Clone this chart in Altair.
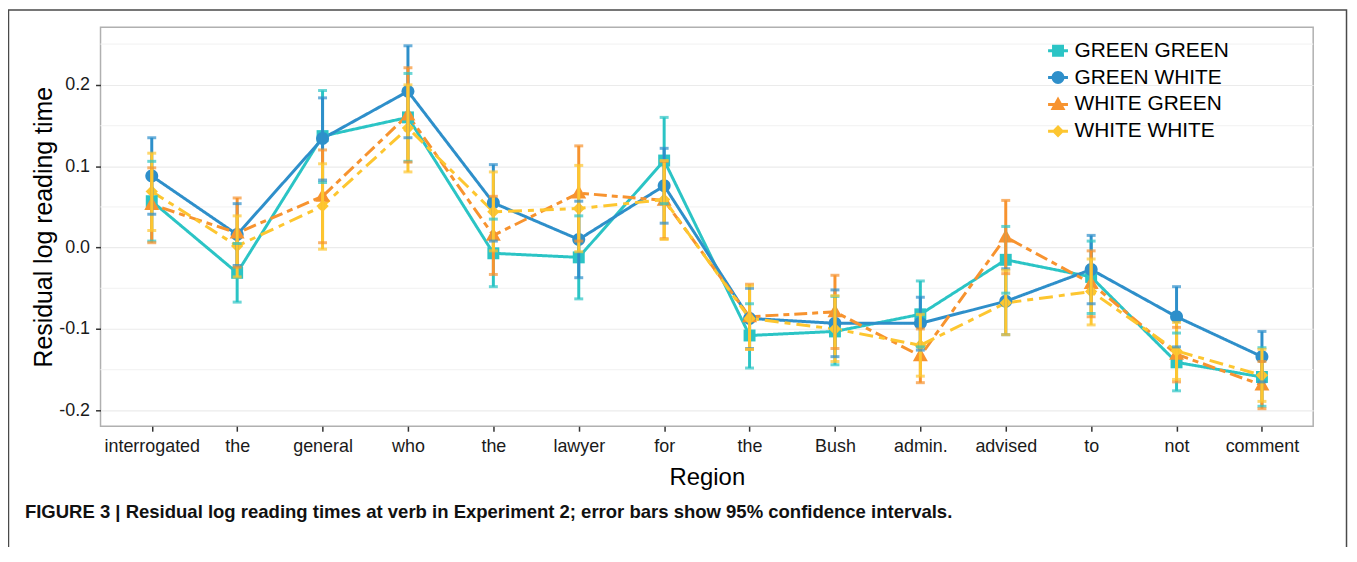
import altair as alt
import pandas as pd

regions = ["interrogated", "the", "general", "who", "the", "lawyer", "for",
           "the", "Bush", "admin.", "advised", "to", "not", "comment"]
series = ["GREEN GREEN", "GREEN WHITE", "WHITE GREEN", "WHITE WHITE"]

gg_mean = [0.057, -0.031, 0.137, 0.160, -0.007, -0.012, 0.107, -0.108, -0.103, -0.082, -0.015, -0.036, -0.141, -0.159]
gg_lo = [0.008, -0.067, 0.080, 0.106, -0.048, -0.063, 0.054, -0.148, -0.144, -0.122, -0.056, -0.081, -0.176, -0.195]
gg_hi = [0.106, 0.005, 0.193, 0.214, 0.035, 0.039, 0.160, -0.069, -0.060, -0.041, 0.026, 0.008, -0.105, -0.123]

gw_mean = [0.088, 0.016, 0.134, 0.192, 0.055, 0.010, 0.076, -0.087, -0.093, -0.093, -0.066, -0.027, -0.085, -0.134]
gw_lo = [0.041, -0.022, 0.083, 0.135, 0.008, -0.037, 0.030, -0.124, -0.134, -0.126, -0.107, -0.069, -0.122, -0.165]
gw_hi = [0.135, 0.054, 0.184, 0.248, 0.102, 0.057, 0.122, -0.050, -0.052, -0.061, -0.026, 0.015, -0.048, -0.103]

wg_mean = [0.053, 0.018, 0.063, 0.163, 0.015, 0.067, 0.058, -0.085, -0.079, -0.133, 0.013, -0.044, -0.131, -0.169]
wg_lo = [0.006, -0.024, 0.006, 0.105, -0.033, 0.008, 0.011, -0.125, -0.124, -0.166, -0.032, -0.085, -0.165, -0.198]
wg_hi = [0.098, 0.061, 0.120, 0.221, 0.063, 0.125, 0.106, -0.045, -0.034, -0.100, 0.058, -0.004, -0.098, -0.140]

ww_mean = [0.069, 0.002, 0.051, 0.147, 0.044, 0.048, 0.059, -0.087, -0.100, -0.120, -0.068, -0.054, -0.127, -0.157]
ww_lo = [0.021, -0.036, -0.002, 0.093, -0.004, -0.005, 0.010, -0.125, -0.140, -0.158, -0.107, -0.095, -0.162, -0.189]
ww_hi = [0.116, 0.039, 0.103, 0.200, 0.093, 0.101, 0.107, -0.047, -0.059, -0.082, -0.028, -0.014, -0.092, -0.125]

y_ticks = [-0.2, -0.1, 0.0, 0.1, 0.2]
minor_grid = [-0.15, -0.05, 0.05, 0.15, 0.25]

caption = ("FIGURE 3 | Residual log reading times at verb in Experiment 2; "
           "error bars show 95% confidence intervals.")

colors = ["#2BC4C5", "#2E8FCA", "#F7932F", "#FDC630"]
dashes = [[1, 0], [1, 0], [6, 5, 13, 5], [14, 6, 6, 6]]

# marker shapes (unit path coords)
sq = "M-0.6,-0.6H0.6V0.6H-0.6Z"
ci = "M-0.65,0A0.65,0.65,0,1,1,0.65,0A0.65,0.65,0,1,1,-0.65,0Z"
tr = "M0,-0.8L0.75,0.55H-0.75Z"
di = "M0,-0.62L0.62,0L0,0.62L-0.62,0Z"
ln = "M-1,-0.15H1V0.15H-1Z"
point_shapes = [sq, ci, tr, di]
legend_shapes = [ln + sq, ln + ci, ln + tr, ln + di]

means = [gg_mean, gw_mean, wg_mean, ww_mean]
los = [gg_lo, gw_lo, wg_lo, ww_lo]
his = [gg_hi, gw_hi, wg_hi, ww_hi]

rows = []
for s, m, lo, hi in zip(series, means, los, his):
    for i in range(len(regions)):
        rows.append({"series": s, "pos": i, "mean": m[i], "lo": lo[i], "hi": hi[i]})
df = pd.DataFrame(rows)

FONT = "Liberation Sans"
label_array = "[" + ",".join("'" + r + "'" for r in regions) + "]"

x_enc = alt.X(
    "pos:O",
    sort=list(range(len(regions))),
    scale=alt.Scale(type="point", padding=0.6),
    axis=alt.Axis(title="Region", labelExpr=label_array + "[datum.value]",
                  labelAngle=0, labelOverlap=False, titlePadding=11),
)
y_scale = alt.Scale(domain=[-0.2195, 0.2707], nice=False, zero=False)
y_axis = alt.Axis(
    title="Residual log reading time", values=y_ticks,
    labelExpr="datum.value < -0.001 ? '-' + format(-datum.value, '.1f') : format(abs(datum.value), '.1f')",
    titlePadding=2, titleFontSize=25,
)

color_enc = alt.Color("series:N", scale=alt.Scale(domain=series, range=colors), legend=None)
dash_enc = alt.StrokeDash("series:N", scale=alt.Scale(domain=series, range=dashes), legend=None)

base = alt.Chart(df)

minor = alt.Chart(pd.DataFrame({"v": minor_grid})).mark_rule(
    color="#f4f4f4", strokeWidth=1.2
).encode(y=alt.Y("v:Q", scale=y_scale, axis=y_axis))

lines = base.mark_line(strokeWidth=3).encode(
    x=x_enc, y=alt.Y("mean:Q", scale=y_scale, axis=y_axis),
    color=color_enc, strokeDash=dash_enc,
)

points = base.mark_point(filled=True, opacity=1, size=400).encode(
    x=x_enc, y=alt.Y("mean:Q", scale=y_scale, axis=y_axis),
    color=color_enc,
    shape=alt.Shape("series:N", scale=alt.Scale(domain=series, range=point_shapes), legend=None),
)

err = base.mark_rule(strokeWidth=3).encode(
    x=x_enc, y=alt.Y("lo:Q", scale=y_scale, axis=y_axis), y2="hi:Q", color=color_enc,
)
cap_lo = base.mark_tick(thickness=3, size=9).encode(
    x=x_enc, y=alt.Y("lo:Q", scale=y_scale, axis=y_axis), color=color_enc,
)
cap_hi = base.mark_tick(thickness=3, size=9).encode(
    x=x_enc, y=alt.Y("hi:Q", scale=y_scale, axis=y_axis), color=color_enc,
)

leg = alt.Legend(title=None, orient="none", legendX=952, legendY=13,
                 symbolOpacity=1, symbolSize=400, symbolStrokeWidth=0,
                 labelFont=FONT, labelFontSize=21, labelColor="#000000",
                 labelOffset=6, rowPadding=5, padding=0)
legend_layer = base.mark_point(filled=True, opacity=0).encode(
    x=x_enc, y=alt.Y("mean:Q", scale=y_scale, axis=y_axis),
    color=alt.Color("series:N", scale=alt.Scale(domain=series, range=colors), legend=leg),
    shape=alt.Shape("series:N", scale=alt.Scale(domain=series, range=legend_shapes), legend=leg),
)

frame = alt.Chart(alt.Data(values=[{}])).mark_rect(
    fill=None, stroke="#4a4a4a", strokeWidth=1.5, clip=False
).encode(x=alt.value(-92.5), x2=alt.value(1252.5), y=alt.value(-17.5), y2=alt.value(560))

cap_text = alt.Chart(alt.Data(values=[{"t": caption}])).mark_text(
    align="left", baseline="middle", font=FONT, fontSize=18.6, fontWeight="bold",
    color="#111111", clip=False
).encode(text="t:N", x=alt.value(-76), y=alt.value(487))

chart = alt.layer(
    minor, lines, points, err, cap_lo, cap_hi, legend_layer, frame, cap_text
).resolve_scale(
    color="independent", shape="independent"
).properties(
    width=1219, height=401,
    autosize=alt.AutoSizeParams(type="none"),
    padding={"left": 93, "top": 18, "right": 36, "bottom": 120},
).configure_view(
    stroke="#b0b0b0", strokeWidth=1.5
).configure_axis(
    domain=False, tickColor="#333333", tickWidth=1.5, tickSize=5,
    gridColor="#ebebeb", gridWidth=1.2,
    labelFont=FONT, labelFontSize=18, labelColor="#1a1a1a", labelPadding=6,
    titleFont=FONT, titleFontSize=24, titleFontWeight="normal", titleColor="#000000",
)

chart.save("out.html", embed_options={"renderer": "svg", "actions": False})
